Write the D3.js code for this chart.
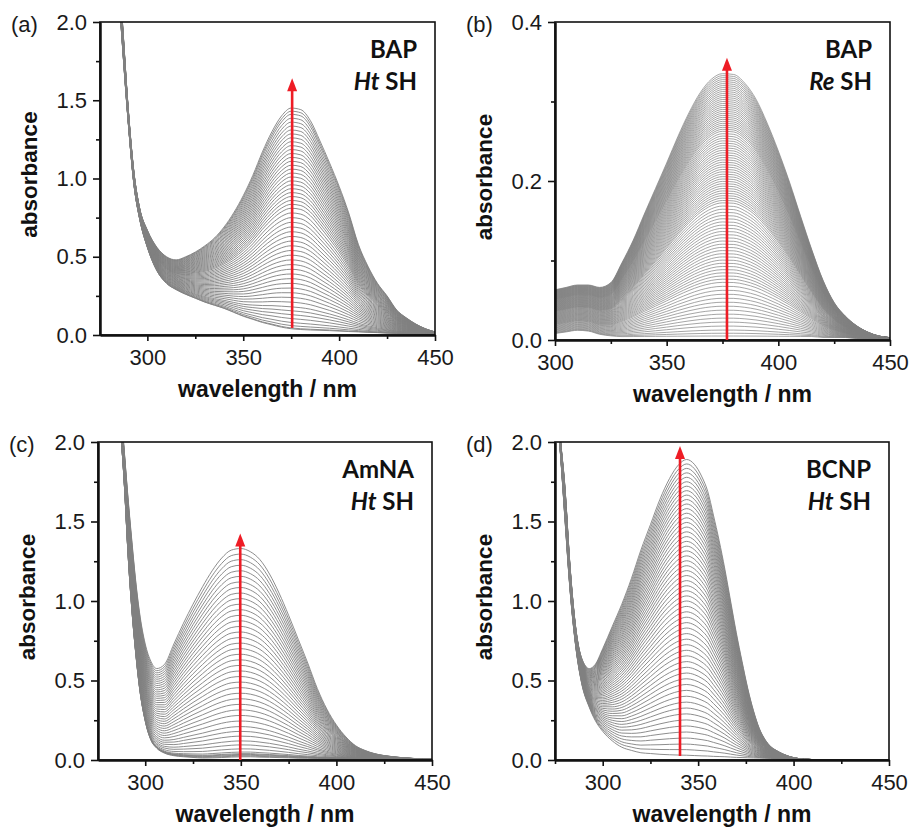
<!DOCTYPE html>
<html>
<head>
<meta charset="utf-8">
<script src="https://cdn.jsdelivr.net/npm/d3@7"></script>
<style>
  html, body { margin: 0; padding: 0; background: #fff; }
  svg { display: block; }
</style>
</head>
<body>
<svg id="chart" width="912" height="830"></svg>
<script>
// ---------------- DATA ----------------
const panelLabels = ["(a)", "(b)", "(c)", "(d)"];
const compoundNames = ["BAP", "BAP", "AmNA", "BCNP"];
const enzymeNames = ["Ht", "Re", "Ht", "Ht"];
const xTickValues = [300, 350, 400, 450];
const xMinorTicks = [275, 325, 375, 425];
const yTicksFull = [0.0, 0.5, 1.0, 1.5, 2.0];
const yMinorFull = [0.25, 0.75, 1.25, 1.75];
const yTicksB = [0.0, 0.2, 0.4];
const yMinorB = [0.1, 0.3];

// Panel (a): BAP / Ht SH
const aWave  = [285,287,290,293,296,300,305,310,315,320,325,330,335,340,345,350,355,360,365,370,375,380,385,390,395,400,405,410,415,420,425,430,435,440,445,450];
const aEnd   = [2.35,2.0,1.45,1.04,0.81,0.67,0.56,0.50,0.48,0.50,0.53,0.57,0.62,0.69,0.78,0.89,1.02,1.17,1.30,1.40,1.45,1.44,1.37,1.24,1.10,0.95,0.78,0.58,0.44,0.33,0.25,0.16,0.11,0.07,0.04,0.02];
const aStart = [2.2,1.85,1.36,0.96,0.74,0.56,0.41,0.33,0.29,0.26,0.235,0.21,0.19,0.17,0.145,0.12,0.10,0.08,0.065,0.05,0.04,0.035,0.032,0.03,0.028,0.025,0.022,0.02,0.017,0.015,0.012,0.01,0.008,0.007,0.006,0.005];
const aLevels = [1.45,1.43,1.41,1.385,1.36,1.335,1.31,1.285,1.26,1.235,1.21,1.185,1.16,1.135,1.11,1.085,1.06,1.035,1.01,0.985,0.96,0.935,0.91,0.885,0.86,0.835,0.81,0.78,0.75,0.72,0.69,0.66,0.63,0.60,0.57,0.54,0.51,0.48,0.45,0.42,0.39,0.36,0.33,0.30,0.27,0.24,0.21,0.18,0.155,0.13,0.105,0.08,0.06,0.045,0.04];

// Panel (b): BAP / Re SH
const bWave  = [300,305,310,315,320,325,330,335,340,345,350,355,360,365,370,375,380,385,390,395,400,405,410,415,420,425,430,435,440,445,450];
const bEnd   = [0.063,0.066,0.069,0.069,0.066,0.072,0.097,0.125,0.158,0.19,0.222,0.255,0.285,0.31,0.327,0.334,0.333,0.322,0.302,0.272,0.237,0.198,0.155,0.113,0.075,0.047,0.03,0.018,0.01,0.005,0.003];
const bStart = [0.008,0.01,0.012,0.011,0.007,0.005,0.004,0.004,0.004,0.004,0.004,0.004,0.004,0.004,0.004,0.004,0.004,0.004,0.004,0.004,0.004,0.004,0.004,0.004,0.003,0.003,0.003,0.002,0.002,0.002,0.002];
const bLevels = [0.335,0.3325,0.330,0.3275,0.325,0.3225,0.320,0.3175,0.315,0.3125,0.310,0.3075,0.305,0.3025,0.300,0.2975,0.295,0.2925,0.290,0.2875,0.285,0.2825,0.280,0.2775,0.275,0.2725,0.270,0.2675,0.265,0.2625,
  0.2595,0.2565,0.2535,0.2505,0.2475,0.2445,0.2415,0.2385,0.2355,0.2325,0.2295,0.2265,0.2235,0.2205,0.2175,0.2145,0.2115,0.2085,0.2055,0.2025,0.1995,0.1965,0.1935,0.1905,0.1875,0.1845,0.1815,0.1785,0.1755,0.1725,
  0.1685,0.1645,0.1605,0.1565,0.1525,0.1485,0.1445,0.1405,0.1365,0.1325,0.1285,0.1245,0.1205,0.1165,0.1125,0.1085,0.1045,0.1005,0.0965,0.0925,0.0885,0.0845,0.0805,0.0765,0.0725,
  0.0675,0.0625,0.0575,0.0525,0.0475,0.0425,0.0375,0.0325,0.0275,0.0225,0.0175,0.0125,0.0085,0.005];

// Panel (c): AmNA / Ht SH
const cWave  = [285,287,289,291,293,295,297,300,303,306,310,315,320,325,330,335,340,345,350,355,360,365,370,375,380,385,390,395,400,405,410,415,420,425,430,435,440,445,450];
const cEnd   = [2.6,2.25,1.95,1.65,1.38,1.13,0.93,0.73,0.62,0.575,0.60,0.73,0.86,0.98,1.09,1.19,1.27,1.32,1.33,1.31,1.26,1.17,1.05,0.91,0.76,0.61,0.45,0.32,0.22,0.145,0.09,0.06,0.04,0.028,0.02,0.014,0.01,0.007,0.005];
const cStart = [2.45,2.1,1.75,1.3,0.95,0.68,0.46,0.25,0.13,0.08,0.05,0.035,0.03,0.027,0.025,0.027,0.03,0.033,0.035,0.035,0.032,0.03,0.027,0.024,0.02,0.018,0.015,0.013,0.012,0.011,0.01,0.009,0.008,0.007,0.007,0.006,0.006,0.005,0.005];
const cLevels = [1.33,1.295,1.26,1.225,1.19,1.155,1.12,1.085,1.05,1.015,0.98,0.945,0.91,0.875,0.84,0.805,0.77,0.735,0.70,0.665,0.63,0.595,0.56,0.525,0.49,0.455,0.42,0.385,0.35,0.315,0.28,0.245,0.21,0.18,0.15,0.12,0.095,0.07,0.05,0.04,0.035,0.03,0.025,0.02];

// Panel (d): BCNP / Ht SH
const dWave  = [276,278,280,283,286,289,293,296,300,305,310,315,320,325,330,335,340,344,348,352,355,358,361,364,367,370,373,376,379,382,385,388,391,395,400,405,410,420,450];
const dEnd   = [2.3,2.0,1.75,1.2,0.82,0.64,0.575,0.6,0.70,0.84,0.98,1.14,1.32,1.48,1.64,1.77,1.86,1.89,1.86,1.78,1.69,1.54,1.38,1.20,1.00,0.80,0.62,0.45,0.31,0.20,0.13,0.085,0.06,0.035,0.015,0.006,0.003,0.002,0.001];
const dStart = [2.2,1.9,1.55,1.05,0.70,0.48,0.33,0.25,0.18,0.12,0.08,0.06,0.045,0.04,0.035,0.032,0.03,0.029,0.027,0.025,0.024,0.022,0.021,0.02,0.018,0.016,0.015,0.014,0.013,0.012,0.011,0.01,0.008,0.006,0.005,0.003,0.002,0.001,0.001];
const dLevels = [1.89,1.862,1.834,1.806,1.778,1.75,1.722,1.694,1.666,1.638,1.61,1.581,1.552,1.523,1.494,1.465,1.435,1.405,1.375,1.345,1.315,1.284,1.253,1.222,1.191,1.16,1.128,1.096,1.064,1.032,1.0,0.966,0.932,0.898,0.864,0.83,0.795,0.76,0.725,0.69,0.655,0.619,0.583,0.547,0.511,0.475,0.438,0.401,0.364,0.327,0.29,0.252,0.214,0.176,0.138,0.1,0.065,0.03];

// reference wavelength at which each trace's level is read
const levelWave = [375, 375, 350, 344];
// red arrows
const arrowWave = [375.5, 377, 349.7, 340.5];
const arrowFrom = [0.045, 0.0, 0.0, 0.025];
const arrowTo   = [1.64, 0.355, 1.425, 1.975];

// ---------------- LAYOUT ----------------
const panels = [
  { box: {l:100, t:22, r:435, b:335}, xDom:[275.3,450], yDom:[0,2], yT:yTicksFull, yM:yMinorFull, fmt:d3.format(".1f"),
    wave:aWave, start:aStart, end:aEnd, levels:aLevels, sw:0.9 },
  { box: {l:555, t:22, r:890, b:340}, xDom:[300,450], yDom:[0,0.4], yT:yTicksB, yM:yMinorB, fmt:d3.format(".1f"),
    wave:bWave, start:bStart, end:bEnd, levels:bLevels, sw:0.7 },
  { box: {l:98, t:442, r:432, b:760}, xDom:[275.3,450], yDom:[0,2], yT:yTicksFull, yM:yMinorFull, fmt:d3.format(".1f"),
    wave:cWave, start:cStart, end:cEnd, levels:cLevels, sw:0.9 },
  { box: {l:555, t:442, r:889, b:760}, xDom:[275,450], yDom:[0,2], yT:yTicksFull, yM:yMinorFull, fmt:d3.format(".1f"),
    wave:dWave, start:dStart, end:dEnd, levels:dLevels, sw:0.9 }
];

const svg = d3.select("#chart");
const sansFont = "'Liberation Sans', Arial, Helvetica, sans-serif";
const annFont = "Lato, 'Open Sans', sans-serif";
const lineColor = "#808080";
const red = "#ee1c25";

panels.forEach((p, i) => {
  const B = p.box;
  const x = d3.scaleLinear().domain(p.xDom).range([B.l, B.r]);
  const y = d3.scaleLinear().domain(p.yDom).range([B.b, B.t]);
  const g = svg.append("g");

  const clipId = "clip" + i;
  svg.append("clipPath").attr("id", clipId)
    .append("rect").attr("x", B.l).attr("y", B.t).attr("width", B.r - B.l).attr("height", B.b - B.t);

  // traces
  const refIdx = p.wave.indexOf(levelWave[i]);
  const s0 = p.start[refIdx], e0 = p.end[refIdx];
  const traces = p.levels.map(L => {
    const f = (L - s0) / (e0 - s0);
    return p.wave.map((w, k) => [w, p.start[k] + f * (p.end[k] - p.start[k])]);
  });
  const line = d3.line().x(d => x(d[0])).y(d => y(d[1])).curve(d3.curveMonotoneX);
  g.append("g").attr("clip-path", `url(#${clipId})`)
    .selectAll("path").data(traces).join("path")
    .attr("d", line).attr("fill", "none")
    .attr("stroke", lineColor).attr("stroke-width", p.sw);

  // frame
  g.append("rect").attr("x", B.l).attr("y", B.t).attr("width", B.r - B.l).attr("height", B.b - B.t)
    .attr("fill", "none").attr("stroke", "#111").attr("stroke-width", 1.6);

  // x axis
  const xAxis = d3.axisBottom(x).tickValues(xTickValues).tickSize(6).tickSizeOuter(0).tickPadding(8).tickFormat(d3.format("d"));
  const xa = g.append("g").attr("transform", `translate(0,${B.b})`).call(xAxis);
  const xMinor = d3.axisBottom(x).tickValues(xMinorTicks.filter(v => v >= p.xDom[0])).tickSize(4).tickSizeOuter(0).tickFormat("");
  const xm = g.append("g").attr("transform", `translate(0,${B.b})`).call(xMinor);
  // y axis
  const yAxis = d3.axisLeft(y).tickValues(p.yT).tickSize(7).tickSizeOuter(0).tickPadding(6).tickFormat(p.fmt);
  const ya = g.append("g").attr("transform", `translate(${B.l},0)`).call(yAxis);
  const yMinor = d3.axisLeft(y).tickValues(p.yM).tickSize(4).tickSizeOuter(0).tickFormat("");
  const ym = g.append("g").attr("transform", `translate(${B.l},0)`).call(yMinor);

  [xa, xm, ya, ym].forEach(a => {
    a.select(".domain").attr("stroke", "#111").attr("stroke-width", 2);
    a.selectAll(".tick line").attr("stroke", "#111").attr("stroke-width", 1.6);
    a.selectAll(".tick text").attr("font-family", sansFont).attr("font-size", 22).attr("fill", "#1a1a1a");
  });

  // axis titles
  g.append("text").attr("x", (B.l + B.r) / 2).attr("y", B.b + 62)
    .attr("text-anchor", "middle").attr("font-family", sansFont).attr("font-weight", "bold")
    .attr("font-size", 23).attr("fill", "#111").text("wavelength / nm");
  g.append("text").attr("transform", `translate(${B.l - 71},${(B.t + B.b) / 2 - 4}) rotate(-90)`)
    .attr("text-anchor", "middle").attr("dominant-baseline", "central").attr("font-family", sansFont).attr("font-weight", "bold")
    .attr("font-size", 22.5).attr("fill", "#111").text("absorbance");

  // panel label
  g.append("text").attr("x", B.l - 89).attr("y", B.t + 10)
    .attr("font-family", sansFont).attr("font-size", 22).attr("fill", "#1a1a1a").text(panelLabels[i]);

  // annotations
  g.append("text").attr("x", B.r - 18).attr("y", B.t + 36).attr("text-anchor", "end")
    .attr("font-family", annFont).attr("font-weight", "bold").attr("font-size", 24).attr("fill", "#111")
    .text(compoundNames[i]);
  const t2 = g.append("text").attr("x", B.r - 18).attr("y", B.t + 68).attr("text-anchor", "end")
    .attr("font-family", annFont).attr("font-weight", "bold").attr("font-size", 24).attr("fill", "#111");
  t2.append("tspan").attr("font-style", "italic").text(enzymeNames[i]);
  t2.append("tspan").text(" SH");

  // arrow
  const ax = x(arrowWave[i]), y0 = y(arrowFrom[i]), y1 = y(arrowTo[i]);
  g.append("line").attr("x1", ax).attr("x2", ax).attr("y1", y0).attr("y2", y1 + 10)
    .attr("stroke", red).attr("stroke-width", 2.6);
  g.append("path").attr("d", `M${ax},${y1} L${ax - 5},${y1 + 13} L${ax + 5},${y1 + 13} Z`).attr("fill", red);
});
</script>
</body>
</html>
